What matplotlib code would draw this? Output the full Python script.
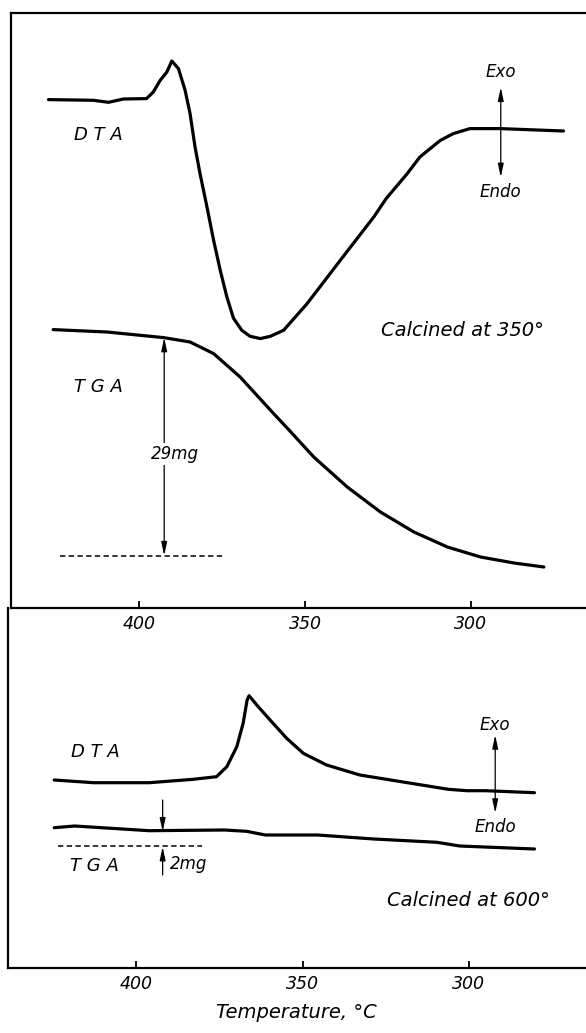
import numpy as np
import matplotlib
matplotlib.use("Agg")
import matplotlib.pyplot as plt

# ---- values (temperature in deg C, deflection in arbitrary units) ----
# sample calcined at 350
dta350_T = [427.4, 413.9, 409.3, 404.8, 397.8, 395.8, 393.7, 391.7, 390.2, 388.2, 386.2,
            384.7, 383.2, 381.7, 379.6, 377.6, 375.6, 373.6, 371.6, 369.1, 366.6, 363.5,
            360.5, 356.5, 349.4, 339.4, 329.3, 325.5, 319.2, 315.4, 309.2, 305.3, 300.3,
            291.2, 272.1]
dta350_s = [508.7, 508.0, 506.0, 509.3, 509.7, 516.3, 528.0, 536.3, 547.3, 539.7, 518.0,
            494.7, 461.3, 434.7, 401.3, 368.0, 338.0, 311.3, 290.0, 278.0, 272.0, 269.7,
            272.0, 278.0, 304.7, 348.0, 391.3, 410.0, 434.7, 451.3, 468.0, 474.7, 479.7,
            479.7, 477.3]
tga350_T = [426.0, 409.8, 392.7, 384.7, 377.6, 369.6, 359.5, 354.5, 347.4, 337.3, 327.3,
            317.2, 307.1, 297.1, 287.0, 278.0]
tga350_s = [278.7, 276.3, 270.7, 266.3, 254.7, 231.3, 194.7, 177.0, 151.3, 121.3, 96.3,
            76.3, 61.3, 51.3, 45.3, 41.3]

# sample calcined at 600
dta600_T = [424.7, 412.9, 396.1, 382.9, 375.9, 372.8, 369.8, 367.9, 366.7, 366.1, 363.8,
            359.8, 354.8, 349.8, 342.8, 332.8, 317.4, 306.2, 300.6, 295.0, 280.3]
dta600_s = [188.3, 185.6, 185.6, 189.0, 191.6, 201.6, 221.6, 245.0, 268.3, 272.6, 263.3,
            248.3, 230.0, 215.0, 203.3, 193.3, 185.0, 179.0, 177.6, 177.6, 175.6]
tga600_T = [424.7, 418.6, 396.1, 373.6, 366.9, 361.2, 345.5, 328.6, 309.6, 302.8, 280.3]
tga600_s = [140.6, 142.3, 137.6, 138.3, 137.0, 133.3, 133.3, 129.3, 126.0, 122.3, 119.3]

xticks = [400, 350, 300]
loss_350 = '29mg'
loss_600 = '2mg'

plt.rcParams['font.family'] = ['DejaVu Sans']
plt.rcParams['font.style'] = 'italic'

fig = plt.figure(figsize=(5.86, 10.33), dpi=100)
W, H = 586.0, 1033.0

# top panel: 12 -> 608 px, bottom panel: 608 -> 968 px
ax1 = fig.add_axes([11 / W, (H - 608.3) / H, (W - 11) / W, 595.6 / H])
ax2 = fig.add_axes([7.5 / W, (H - 968.3) / H, (W - 7.5) / W, 360 / H])
ax2.patch.set_visible(False)
ax1.patch.set_visible(False)
ax1.set_zorder(3)

ax1.set_xlim(438.7, 265.3)
ax1.set_ylim(0, 595.6)
ax2.set_xlim(438.75, 264.8)
ax2.set_ylim(0, 360)

for ax in (ax1, ax2):
    ax.spines['right'].set_visible(False)
    for s in ('left', 'bottom', 'top'):
        ax.spines[s].set_linewidth(1.6)
    ax.set_yticks([])
    ax.set_xticks(xticks)
    ax.tick_params(axis='x', direction='in', length=5, width=1.3, labelsize=12.5)
    for lab in ax.get_xticklabels():
        lab.set_fontstyle('italic')
ax2.spines['top'].set_visible(False)
ax1.tick_params(axis='x', pad=5)
ax2.tick_params(axis='x', pad=5)

lw = 2.3
kw = dict(color='black', lw=lw, solid_capstyle='round', solid_joinstyle='round')
ax1.plot(dta350_T, dta350_s, **kw)
ax1.plot(tga350_T, tga350_s, **kw)
ax2.plot(dta600_T, dta600_s, **kw)
ax2.plot(tga600_T, tga600_s, **kw)

arrow = dict(arrowstyle='<|-|>,head_length=0.8,head_width=0.17', color='black', lw=0.9,
             shrinkA=0, shrinkB=0)
one_way = dict(arrowstyle='-|>,head_length=0.8,head_width=0.17', color='black', lw=0.9,
               shrinkA=0, shrinkB=0)
txt = dict(ha='center', va='center', fontstyle='italic')

# --- top panel annotations ---
ax1.text(412.2, 473, 'D T A', fontsize=13, **txt)
ax1.text(412.4, 221, 'T G A', fontsize=13, **txt)
ax1.text(291.0, 536, 'Exo', fontsize=12, **txt)
ax1.text(291.0, 416, 'Endo', fontsize=12, **txt)
ax1.annotate('', xy=(291.0, 521), xytext=(291.0, 431), arrowprops=arrow)
ax1.text(302.6, 278, 'Calcined at 350°', fontsize=14, **txt)
ax1.plot([424.0, 374.9], [52.7, 52.7], color='black', lw=1.1, ls=(0, (3.5, 2.2)))
ax1.annotate('', xy=(392.5, 270.7), xytext=(392.5, 52.7), arrowprops=arrow)
ax1.text(389.3, 154.7, loss_350, fontsize=12, **txt,
         bbox=dict(facecolor='white', edgecolor='none', pad=1.5))

# --- bottom panel annotations ---
ax2.text(412.4, 216.3, 'D T A', fontsize=13, **txt)
ax2.text(412.7, 102.3, 'T G A', fontsize=13, **txt)
ax2.text(292.1, 243.3, 'Exo', fontsize=12, **txt)
ax2.text(292.1, 141, 'Endo', fontsize=12, **txt)
ax2.annotate('', xy=(292.1, 233.3), xytext=(292.1, 155.3), arrowprops=arrow)
ax2.text(300.3, 68.3, 'Calcined at 600°', fontsize=14, **txt)
ax2.plot([423.6, 380.3], [122.3, 122.3], color='black', lw=1.1, ls=(0, (3.5, 2.2)))
ax2.annotate('', xy=(392.1, 136.6), xytext=(392.1, 168.3), arrowprops=one_way)
ax2.annotate('', xy=(392.1, 121.6), xytext=(392.1, 93.3), arrowprops=one_way)
ax2.text(390.0, 104.3, loss_600, fontsize=12, ha='left', va='center', fontstyle='italic')

ax2.set_xlabel('Temperature, °C', fontsize=14, fontstyle='italic', labelpad=7)

fig.savefig('out.png', dpi=100)
